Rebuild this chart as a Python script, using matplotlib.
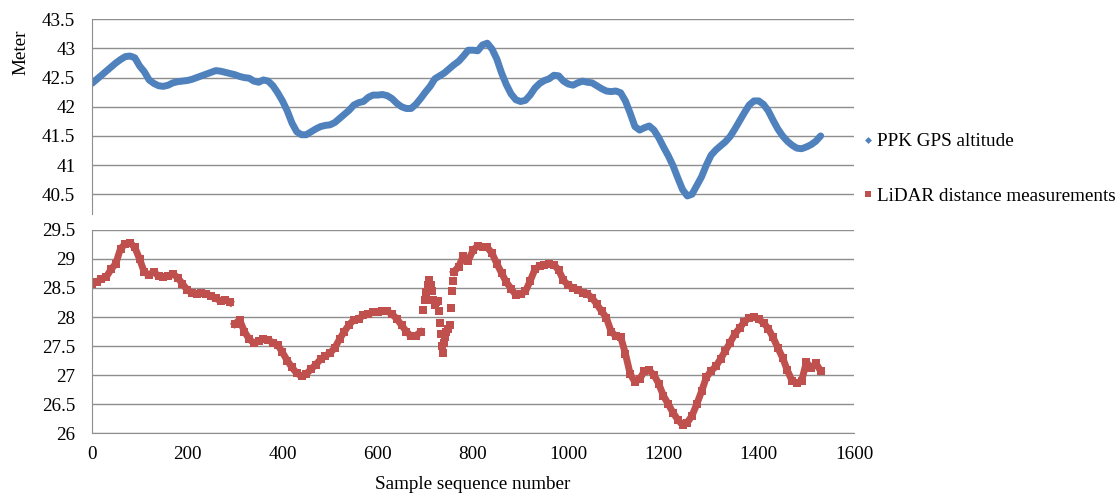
import numpy as np
import matplotlib
matplotlib.use("Agg")
import matplotlib.pyplot as plt
from matplotlib.lines import Line2D

plt.rcParams['font.family'] = ['Liberation Serif', 'DejaVu Serif']

# PPK GPS altitude, read every 10 samples
gps_x = list(range(0, 1540, 10))
gps_y = [42.40, 42.47, 42.54, 42.61, 42.68, 42.75, 42.81, 42.86, 42.87, 42.84,
         42.70, 42.60, 42.46, 42.40, 42.36, 42.35, 42.37, 42.41, 42.43, 42.44,
         42.45, 42.47, 42.50, 42.53, 42.56, 42.59, 42.62, 42.61, 42.59, 42.57,
         42.55, 42.52, 42.50, 42.49, 42.44, 42.42, 42.46, 42.44, 42.36, 42.24,
         42.10, 41.93, 41.72, 41.57, 41.52, 41.52, 41.57, 41.62, 41.66, 41.68,
         41.69, 41.73, 41.80, 41.87, 41.94, 42.03, 42.07, 42.09, 42.16, 42.20,
         42.20, 42.21, 42.19, 42.14, 42.06, 42.00, 41.97, 41.97, 42.04, 42.14,
         42.25, 42.35, 42.48, 42.53, 42.58, 42.65, 42.72, 42.78, 42.87, 42.97,
         42.97, 42.96, 43.06, 43.09, 42.99, 42.82, 42.58, 42.38, 42.22, 42.12,
         42.09, 42.11, 42.20, 42.32, 42.40, 42.45, 42.48, 42.54, 42.53, 42.44,
         42.39, 42.37, 42.41, 42.44, 42.42, 42.41, 42.36, 42.31, 42.27, 42.26,
         42.27, 42.24, 42.10, 41.89, 41.66, 41.60, 41.64, 41.67, 41.60, 41.47,
         41.31, 41.16, 40.99, 40.78, 40.58, 40.47, 40.50, 40.65, 40.80, 41.00,
         41.17, 41.26, 41.33, 41.40, 41.49, 41.62, 41.76, 41.90, 42.03, 42.10,
         42.10, 42.04, 41.93, 41.77, 41.62, 41.50, 41.41, 41.34, 41.29, 41.28,
         41.31, 41.35, 41.41, 41.50]

# LiDAR distance, continuous stretches (every 10 samples)
lidar_x1 = list(range(0, 300, 10))
lidar_y1 = [28.57, 28.61, 28.65, 28.69, 28.82, 28.92, 29.18, 29.26, 29.28, 29.20,
            29.00, 28.77, 28.73, 28.78, 28.70, 28.69, 28.70, 28.74, 28.68, 28.57,
            28.47, 28.41, 28.39, 28.42, 28.40, 28.36, 28.32, 28.28, 28.30, 28.25]
lidar_x2 = list(range(300, 700, 10))
lidar_y2 = [27.88, 27.95, 27.75, 27.62, 27.55, 27.58, 27.62, 27.60, 27.56, 27.52,
            27.39, 27.25, 27.13, 27.03, 26.98, 27.02, 27.10, 27.18, 27.27, 27.33,
            27.38, 27.47, 27.62, 27.75, 27.87, 27.95, 27.97, 28.03, 28.05, 28.08,
            28.09, 28.10, 28.10, 28.05, 27.97, 27.86, 27.75, 27.67, 27.68, 27.74]
lidar_x3 = list(range(760, 1540, 10))
lidar_y3 = [28.78, 28.87, 29.05, 28.97, 29.15, 29.23, 29.20, 29.20, 29.10, 28.92,
            28.76, 28.60, 28.49, 28.38, 28.40, 28.44, 28.62, 28.82, 28.88, 28.90,
            28.91, 28.90, 28.81, 28.63, 28.55, 28.50, 28.47, 28.42, 28.40, 28.33,
            28.22, 28.10, 27.99, 27.75, 27.67, 27.66, 27.37, 27.02, 26.88, 26.93,
            27.07, 27.08, 27.00, 26.85, 26.64, 26.50, 26.35, 26.23, 26.14, 26.18,
            26.30, 26.50, 26.72, 26.96, 27.07, 27.15, 27.28, 27.42, 27.56, 27.71,
            27.81, 27.92, 27.99, 28.00, 27.96, 27.90, 27.80, 27.65, 27.47, 27.30,
            27.08, 26.90, 26.86, 26.90, 27.22, 27.12, 27.20, 27.07]
# scattered LiDAR samples around the jumps
lidar_sx = [696, 699, 702, 705, 708, 711, 714, 717, 720, 723, 726, 729, 731,
            733, 735, 737, 739, 741, 744, 748, 751, 753, 756, 759]
lidar_sy = [28.12, 28.30, 28.43, 28.55, 28.63, 28.55, 28.45, 28.30, 28.20, 28.25,
            28.28, 28.10, 27.90, 27.70, 27.50, 27.38, 27.55, 27.65, 27.75, 27.80,
            27.86, 28.16, 28.45, 28.62]

blue = '#4F81BD'
red = '#C0504D'
grid_c = '#8E8E8E'
fs = 13.8

fig = plt.figure(figsize=(11.2, 4.96), dpi=100)
ax1 = fig.add_axes([0.0821, 0.5685, 0.6804, 0.3926])
ax2 = fig.add_axes([0.0821, 0.127, 0.6804, 0.4093])

ax1.plot(gps_x, gps_y, color=blue, lw=5, solid_capstyle='round')
for xs, ys in [(lidar_x1, lidar_y1), (lidar_x2, lidar_y2), (lidar_x3, lidar_y3)]:
    ax2.plot(xs, ys, color=red, lw=5, marker='s', ms=5.2, mew=0)
ax2.plot(lidar_sx, lidar_sy, color=red, ls='none', marker='s', ms=5.2, mew=0)

ax1.set_ylim(40.16, 43.5)
ax1.set_yticks(np.arange(40.5, 43.51, 0.5))
ax1.set_yticklabels(['40.5', '41', '41.5', '42', '42.5', '43', '43.5'])
ax2.set_ylim(26, 29.5)
ax2.set_yticks(np.arange(26, 29.51, 0.5))
ax2.set_yticklabels(['26', '26.5', '27', '27.5', '28', '28.5', '29', '29.5'])

for ax in (ax1, ax2):
    ax.set_xlim(0, 1600)
    ax.grid(axis='y', color=grid_c, lw=1.0)
    ax.set_axisbelow(True)
    for s in ['top', 'right']:
        ax.spines[s].set_visible(False)
    ax.spines['left'].set_color(grid_c)
    ax.spines['bottom'].set_color(grid_c)
    ax.tick_params(axis='y', length=0, pad=12, labelsize=fs)
    ax.tick_params(axis='x', length=0, pad=9, labelsize=fs)

ax1.spines['bottom'].set_visible(False)
ax1.set_xticks([])
ax2.set_xticks(range(0, 1601, 200))
ax2.set_xlabel('Sample sequence number', fontsize=fs, labelpad=10)

fig.text(0.019, 1 - 52 / 496, 'Meter', rotation=90, ha='center', va='center', fontsize=fs)

handles = [Line2D([], [], color=blue, marker='D', ls='none', ms=3.5, mew=0),
           Line2D([], [], color=red, marker='s', ls='none', ms=4.5, mew=0)]
fig.legend(handles, ['PPK GPS altitude', 'LiDAR distance measurements'],
           loc='upper left', bbox_to_anchor=(0.771, 1 - 133 / 496), frameon=False,
           fontsize=fs, handlelength=0.5, handletextpad=0.2, labelspacing=1.95,
           borderpad=0, borderaxespad=0)

fig.savefig('out.png', dpi=100)
